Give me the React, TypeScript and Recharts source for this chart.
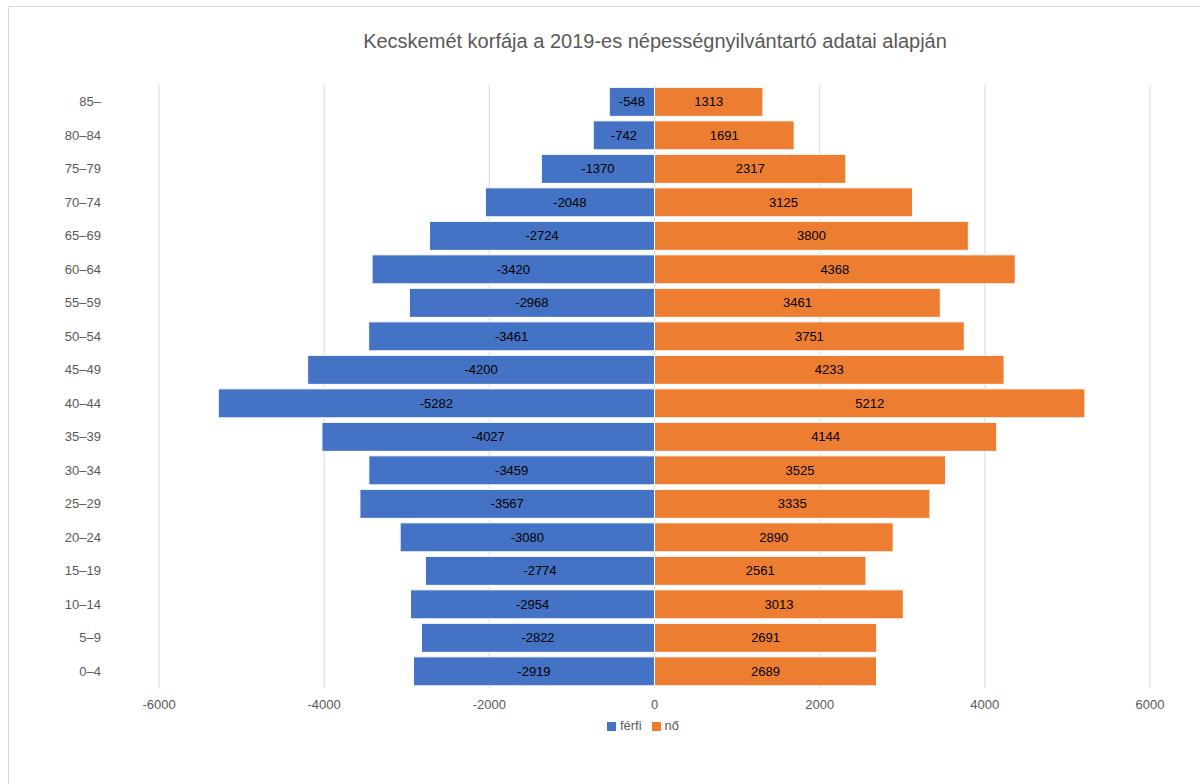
import { BarChart, Bar, XAxis, YAxis, CartesianGrid, Legend, LabelList } from "recharts";

const ageGroups = ["85–", "80–84", "75–79", "70–74", "65–69", "60–64", "55–59", "50–54", "45–49", "40–44", "35–39", "30–34", "25–29", "20–24", "15–19", "10–14", "5–9", "0–4"];
const ferfi = [-548, -742, -1370, -2048, -2724, -3420, -2968, -3461, -4200, -5282, -4027, -3459, -3567, -3080, -2774, -2954, -2822, -2919];
const no = [1313, 1691, 2317, 3125, 3800, 4368, 3461, 3751, 4233, 5212, 4144, 3525, 3335, 2890, 2561, 3013, 2691, 2689];
const xTicks = [-6000, -4000, -2000, 0, 2000, 4000, 6000];

const data = ageGroups.map((age, i) => ({ age, ferfi: ferfi[i], no: no[i] }));

const font = "'Liberation Sans', Arial, sans-serif";
const grey = "#595959";

export default function App() {
  return (
    <div style={{ position: "absolute", left: 8, top: 6, width: 1192, height: 778, border: "1px solid #d9d9d9", borderRight: "none", borderBottom: "none", background: "#fff", fontFamily: font }}>
      <div style={{ position: "absolute", left: 0, top: 23, width: 1292, textAlign: "center", fontSize: 20, color: grey }}>
        Kecskemét korfája a 2019-es népességnyilvántartó adatai alapján
      </div>
      <div style={{ position: "absolute", left: -1, top: -1 }}>
        <BarChart
          width={1192}
          height={778}
          data={data}
          layout="vertical"
          stackOffset="sign"
          barCategoryGap="7%"
          margin={{ top: 79, right: 50, bottom: 51, left: 0 }}
        >
          <CartesianGrid horizontal={false} stroke="#d9d9d9" />
          <XAxis
            type="number"
            domain={[-6000, 6000]}
            ticks={xTicks}
            axisLine={false}
            tickLine={false}
            tickSize={0}
            tickMargin={12}
            tick={{ fill: grey, fontSize: 13, fontFamily: font }}
          />
          <YAxis
            type="category"
            dataKey="age"
            width={151}
            axisLine={false}
            tickLine={false}
            tickSize={0}
            tickMargin={58}
            interval={0}
            tick={{ fill: grey, fontSize: 13, fontFamily: font }}
          />
          <Legend
            verticalAlign="bottom"
            align="center"
            iconType="square"
            iconSize={9}
            wrapperStyle={{ top: 712, left: 0, width: 1280, fontSize: 13, fontFamily: font }}
            formatter={(value) => <span style={{ color: grey }}>{value}</span>}
          />
          <Bar dataKey="ferfi" name="férfi" stackId="a" fill="#4472c4" stroke="#fff" strokeWidth={1} isAnimationActive={false}>
            <LabelList dataKey="ferfi" position="center" fill="#000" fontSize={13} fontFamily={font} />
          </Bar>
          <Bar dataKey="no" name="nő" stackId="a" fill="#ed7d31" stroke="#fff" strokeWidth={1} isAnimationActive={false}>
            <LabelList dataKey="no" position="center" fill="#000" fontSize={13} fontFamily={font} />
          </Bar>
        </BarChart>
      </div>
    </div>
  );
}
